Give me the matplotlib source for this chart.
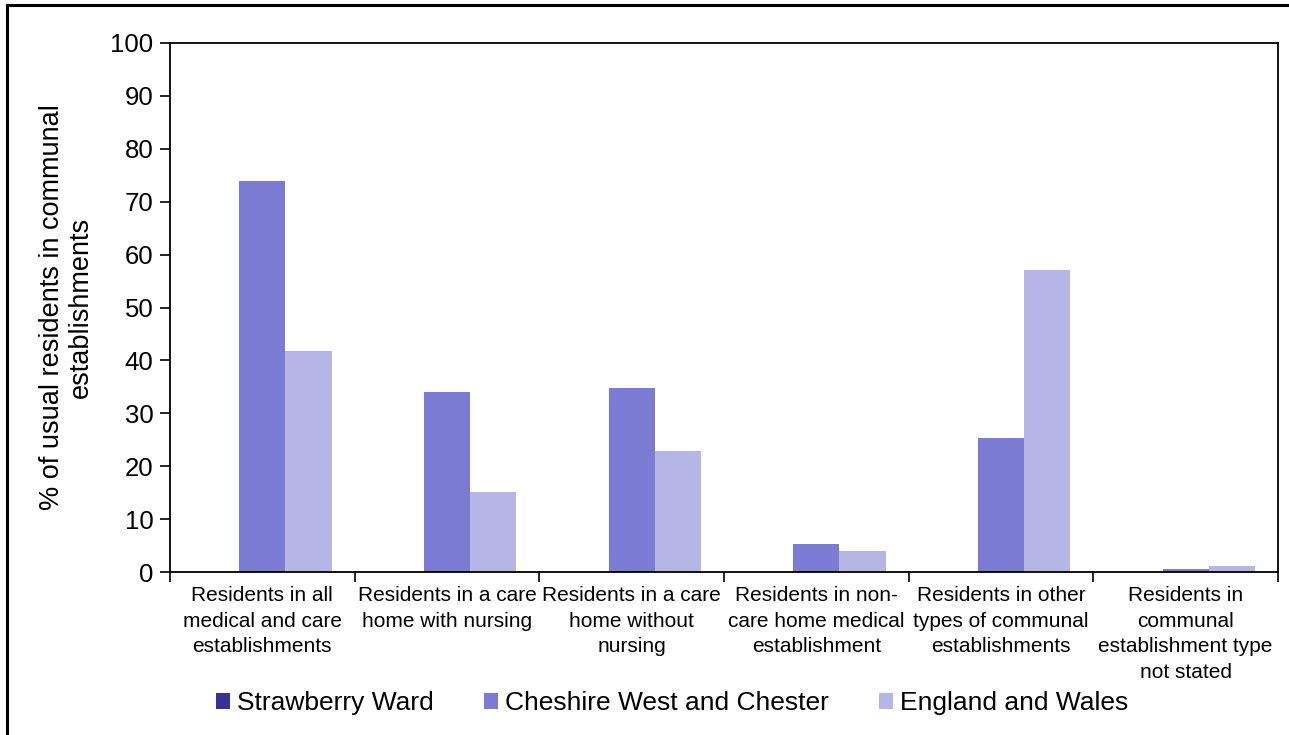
import matplotlib
matplotlib.use("Agg")
import matplotlib.pyplot as plt
import numpy as np
from matplotlib.patches import Rectangle

plt.rcParams['font.family'] = ['Liberation Sans', 'DejaVu Sans']

categories = [
    "Residents in all\nmedical and care\nestablishments",
    "Residents in a care\nhome with nursing",
    "Residents in a care\nhome without\nnursing",
    "Residents in non-\ncare home medical\nestablishment",
    "Residents in other\ntypes of communal\nestablishments",
    "Residents in\ncommunal\nestablishment type\nnot stated",
]
series_names = ["Strawberry Ward", "Cheshire West and Chester", "England and Wales"]
strawberry = [0, 0, 0, 0, 0, 0]
cheshire = [74.0, 34.0, 34.8, 5.2, 25.4, 0.6]
england = [41.8, 15.1, 22.9, 3.9, 57.0, 1.2]
colors = ["#333399", "#7B7BD3", "#B6B6E6"]

fig = plt.figure(figsize=(12.89, 7.35), dpi=100)
ax = fig.add_axes([170/1289, 1-572/735, (1278-170)/1289, (572-43)/735])

x = np.arange(len(categories))
w = 0.25
for i, (vals, name, c) in enumerate(zip([strawberry, cheshire, england], series_names, colors)):
    ax.bar(x + (i-1)*w, vals, width=w, color=c, label=name, edgecolor='none')

ax.set_xlim(-0.5, len(categories)-0.5)
ax.set_ylim(0, 100)
ax.set_yticks(range(0, 101, 10))
ax.tick_params(axis='y', labelsize=18.5, length=7, width=1.2, direction='out', pad=5)
ax.set_xticks(x)
ax.set_xticklabels(categories, fontsize=15, linespacing=1.45)
ax.tick_params(axis='x', length=0, pad=10)
ax.set_xticks(np.arange(-0.5, len(categories)), minor=True)
ax.tick_params(axis='x', which='minor', length=7, width=1.2, direction='out')
for s in ax.spines.values():
    s.set_linewidth(1.3)
    s.set_color('black')

ax.set_ylabel("% of usual residents in communal\nestablishments", fontsize=19.5, labelpad=12, linespacing=1.15)

leg = ax.legend(loc='center', bbox_to_anchor=(672/1289, 1-703/735), bbox_transform=fig.transFigure,
                ncol=3, frameon=False, fontsize=19, handlelength=0.55, handleheight=0.55,
                handletextpad=0.25, columnspacing=1.9)

fig.patches.append(Rectangle((7/1289, -0.05), 1.1, 1-5/735+0.05, transform=fig.transFigure,
                             fill=False, edgecolor='black', linewidth=2.2))

fig.savefig("out.png", dpi=100)
